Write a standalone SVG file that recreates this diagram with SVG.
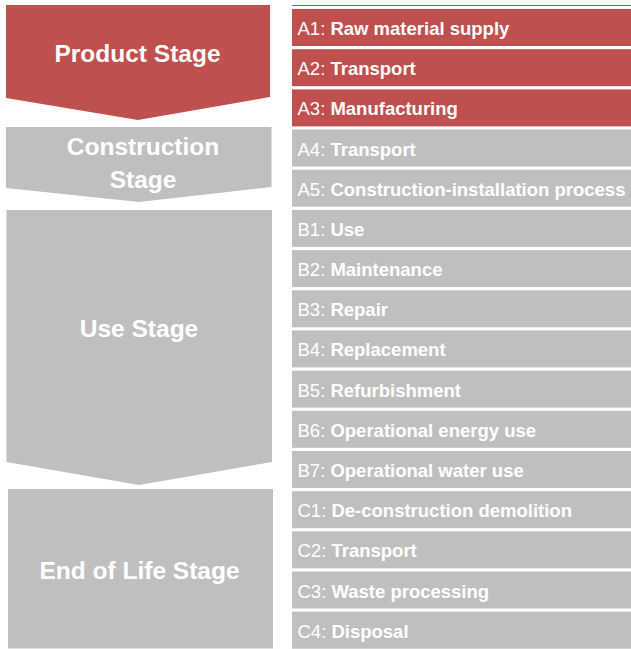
<svg xmlns="http://www.w3.org/2000/svg" width="631" height="649" viewBox="0 0 631 649">
<style>
.red{fill:#C0504D}
.gray{fill:#BFBFBF}
.stage{font-family:"Liberation Sans",Arial,sans-serif;font-weight:bold;font-size:24.5px;fill:#FFFFFF;text-anchor:middle}
.row{font-family:"Liberation Sans",Arial,sans-serif;font-size:18.5px;fill:#FFFFFF}
.row tspan.b{font-weight:bold}
</style>
<rect x="0" y="0" width="631" height="649" fill="#FFFFFF"/>
<g id="stage-product">
<polygon class="red" points="6,5 270,5 270,97 138,120 6,98"/>
<text class="stage" x="137.5" y="62">Product Stage</text>
</g>
<g id="stage-construction">
<polygon class="gray" points="6,127 271.5,127 271.5,187 139,202 6,188"/>
<text class="stage" x="143" y="155">Construction</text>
<text class="stage" x="143" y="188">Stage</text>
</g>
<g id="stage-use">
<polygon class="gray" points="6.5,210 272,210 272,462 139,485 6.5,462"/>
<text class="stage" x="139" y="337">Use Stage</text>
</g>
<g id="stage-end">
<rect class="gray" x="8" y="489" width="265" height="159.5"/>
<text class="stage" x="139.5" y="579">End of Life Stage</text>
</g>
<rect class="red" x="292" y="5" width="339" height="1"/>
<g id="A1"><rect class="red" x="292" y="9" width="339" height="37"/><text class="row" x="297.5" y="35">A1: <tspan class="b">Raw material supply</tspan></text></g>
<g id="A2"><rect class="red" x="292" y="49.2" width="339" height="37"/><text class="row" x="297.5" y="75.2">A2: <tspan class="b">Transport</tspan></text></g>
<g id="A3"><rect class="red" x="292" y="89.4" width="339" height="37"/><text class="row" x="297.5" y="115.4">A3: <tspan class="b">Manufacturing</tspan></text></g>
<g id="A4"><rect class="gray" x="292" y="129.5" width="339" height="37"/><text class="row" x="297.5" y="155.5">A4: <tspan class="b">Transport</tspan></text></g>
<g id="A5"><rect class="gray" x="292" y="169.7" width="339" height="37"/><text class="row" x="297.5" y="195.7">A5: <tspan class="b">Construction-installation process</tspan></text></g>
<g id="B1"><rect class="gray" x="292" y="209.9" width="339" height="37"/><text class="row" x="297.5" y="235.9">B1: <tspan class="b">Use</tspan></text></g>
<g id="B2"><rect class="gray" x="292" y="250.1" width="339" height="37"/><text class="row" x="297.5" y="276.1">B2: <tspan class="b">Maintenance</tspan></text></g>
<g id="B3"><rect class="gray" x="292" y="290.3" width="339" height="37"/><text class="row" x="297.5" y="316.3">B3: <tspan class="b">Repair</tspan></text></g>
<g id="B4"><rect class="gray" x="292" y="330.4" width="339" height="37"/><text class="row" x="297.5" y="356.4">B4: <tspan class="b">Replacement</tspan></text></g>
<g id="B5"><rect class="gray" x="292" y="370.6" width="339" height="37"/><text class="row" x="297.5" y="396.6">B5: <tspan class="b">Refurbishment</tspan></text></g>
<g id="B6"><rect class="gray" x="292" y="410.8" width="339" height="37"/><text class="row" x="297.5" y="436.8">B6: <tspan class="b">Operational energy use</tspan></text></g>
<g id="B7"><rect class="gray" x="292" y="451" width="339" height="37"/><text class="row" x="297.5" y="477">B7: <tspan class="b">Operational water use</tspan></text></g>
<g id="C1"><rect class="gray" x="292" y="491.2" width="339" height="37"/><text class="row" x="297.5" y="517.2">C1: <tspan class="b">De-construction demolition</tspan></text></g>
<g id="C2"><rect class="gray" x="292" y="531.3" width="339" height="37"/><text class="row" x="297.5" y="557.3">C2: <tspan class="b">Transport</tspan></text></g>
<g id="C3"><rect class="gray" x="292" y="571.5" width="339" height="37"/><text class="row" x="297.5" y="597.5">C3: <tspan class="b">Waste processing</tspan></text></g>
<g id="C4"><rect class="gray" x="292" y="611.7" width="339" height="37"/><text class="row" x="297.5" y="637.7">C4: <tspan class="b">Disposal</tspan></text></g>
</svg>
